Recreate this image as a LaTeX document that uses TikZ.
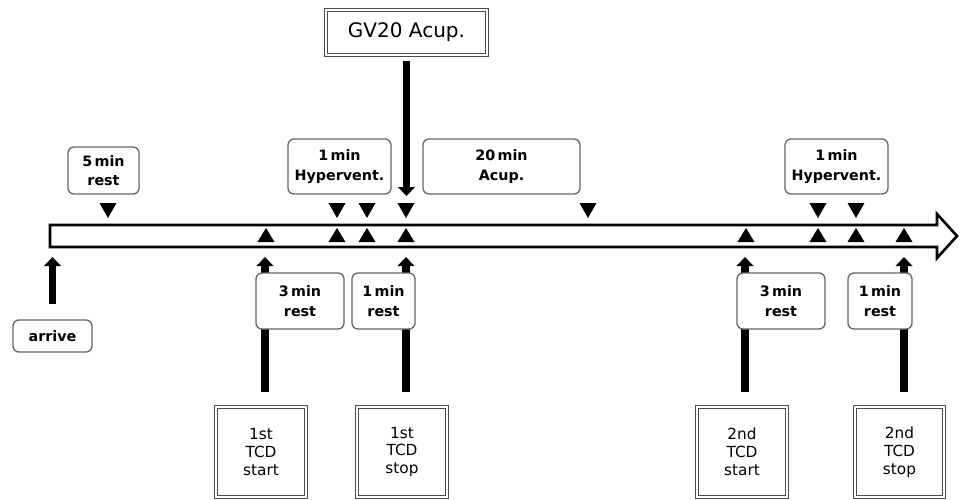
\documentclass[tikz,border=0pt]{standalone}
\usepackage{fontspec}
\setmainfont{DejaVu Sans}
\usetikzlibrary{arrows.meta}
\begin{document}
\begin{tikzpicture}[x=1pt,y=-1pt,
  rbox/.style={draw=black!60, line width=1.3pt, rounded corners=6pt, fill=white,
    font=\bfseries\fontsize{14.3}{19.5}\selectfont, align=center, inner sep=0pt},
  dbox/.style={draw=black!70, double=white, double distance=1.6pt, line width=1.1pt,
    fill=white, align=center, inner sep=0pt},
  tcd/.style={dbox, font=\fontsize{15.3}{17.8}\selectfont, minimum height=90pt},
  bigarrow/.style={line width=7.5pt, -{Triangle[width=17pt,length=9pt,line width=0pt]}},
  tri/.style={fill=black},
  ]
\clip (0,0) rectangle (961,499);

% timeline
\draw[line width=2.6pt, fill=white, line join=miter]
  (50,225) -- (937,225) -- (937,214) -- (957,236) -- (937,258) -- (937,247) -- (50,247) -- cycle;

% small markers
\foreach \x in {108,337,367,406,588,818,856}
  \fill[tri] ({\x-8.5},203) -- ({\x+8.5},203) -- (\x,218) -- cycle;
\foreach \x in {266,337,367,406,746,818,856,904}
  \fill[tri] ({\x-8.5},242) -- ({\x+8.5},242) -- (\x,228) -- cycle;

% nodes
\node[dbox, font=\fontsize{20}{24}\selectfont, minimum width=161pt, minimum height=45pt] (gv) at (406.5,32.5) {GV20 Acup.};
\node[tcd, minimum width=90pt] (tcd1) at (261,452) {1st\\TCD\\start};
\node[tcd, minimum width=90pt] (tcd2) at (402,452) {1st\\TCD\\stop};
\node[tcd, minimum width=90pt] (tcd3) at (742,452) {2nd\\TCD\\start};
\node[tcd, minimum width=89pt] (tcd4) at (899.5,452) {2nd\\TCD\\stop};
\node[rbox, minimum width=79pt, minimum height=32pt] (arrive) at (52.5,336) {arrive};

\coordinate (gvtip) at (406.5,196);
\coordinate (arrtip) at (52.5,257);
\coordinate (t1) at (265,257);
\coordinate (t2) at (406,257);
\coordinate (t3) at (745,257);
\coordinate (t4) at (904,257);

% big arrows
\draw[bigarrow, shorten <=5pt] (gv.south) -- (gvtip);
\draw[bigarrow, shorten <=15pt] (arrive.north) -- (arrtip);
\draw[bigarrow, shorten <=14pt] (tcd1.north -| t1) -- (t1);
\draw[bigarrow, shorten <=14pt] (tcd2.north -| t2) -- (t2);
\draw[bigarrow, shorten <=14pt] (tcd3.north -| t3) -- (t3);
\draw[bigarrow, shorten <=14pt] (tcd4.north -| t4) -- (t4);

% rounded labels
\node[rbox, minimum width=71pt, minimum height=47pt] (r5) at (103.5,170.5) {5\,min\\rest};
\node[rbox, minimum width=103pt, minimum height=55pt] (h1) at (339.5,166.5) {1\,min\\Hypervent.};
\node[rbox, minimum width=157pt, minimum height=55pt] (ac) at (501.5,166.5) {20\,min\\Acup.};
\node[rbox, minimum width=103pt, minimum height=55pt] (h2) at (836.5,166.5) {1\,min\\Hypervent.};
\node[rbox, minimum width=88pt, minimum height=56pt] (r3a) at (300,301) {3\,min\\rest};
\node[rbox, minimum width=63pt, minimum height=56pt] (r1a) at (383.5,301) {1\,min\\rest};
\node[rbox, minimum width=88pt, minimum height=56pt] (r3b) at (781,301) {3\,min\\rest};
\node[rbox, minimum width=64pt, minimum height=56pt] (r1b) at (880,301) {1\,min\\rest};
\end{tikzpicture}
\end{document}
